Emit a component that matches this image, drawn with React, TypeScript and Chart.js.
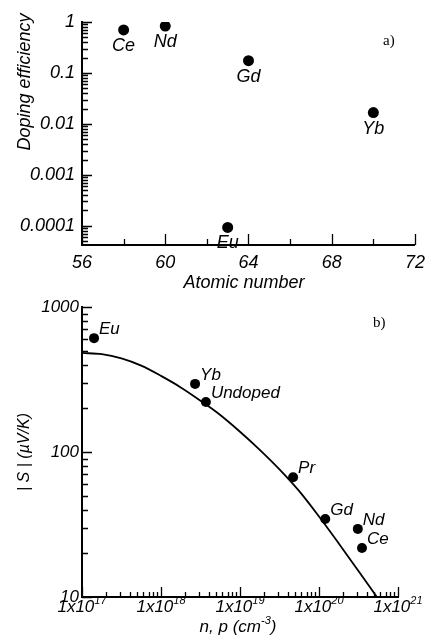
import React, { useEffect, useRef } from 'react';
import { Chart, registerables } from 'chart.js';

Chart.register(...registerables);

const SANS = "'Liberation Sans', Arial, sans-serif";
const SERIF = "'Liberation Serif', 'Times New Roman', serif";

// ---------- Panel a) ----------
const ELEMENTS_A = ['Ce', 'Nd', 'Eu', 'Gd', 'Yb'];
const ATOMIC_NUMBER = [58, 60, 63, 64, 70];
const DOPING_EFF = [0.7, 0.83, 0.000093, 0.174, 0.0167];
const A_X_TICKS = [56, 58, 60, 62, 64, 66, 68, 70, 72];
const A_X_LABELS = ['56', '', '60', '', '64', '', '68', '', '72'];
const A_Y_MAJOR = [0.0001, 0.001, 0.01, 0.1, 1];
const A_Y_LABELS = ['0.0001', '0.001', '0.01', '0.1', '1'];

// ---------- Panel b) ----------
const SAMPLES_B = ['Eu', 'Yb', 'Undoped', 'Pr', 'Gd', 'Nd', 'Ce'];
const CARRIER_N = [1.42e17, 2.7e18, 3.7e18, 4.7e19, 1.2e20, 3.1e20, 3.5e20];
const SEEBECK = [610, 295, 221, 67, 34.5, 29.5, 21.8];
const CURVE_N = [
  1e17, 1.78e17, 3.16e17, 5.62e17, 1e18, 1.78e18, 3.16e18, 5.62e18,
  1e19, 1.78e19, 3.16e19, 5.62e19, 1e20, 1.78e20, 3.16e20, 5.4e20,
];
const CURVE_S = [482, 473, 442, 394, 335, 279, 226, 180, 138, 103.5, 75.9, 53.7, 35.9, 23.4, 15.1, 10];
const B_X_MAJOR = [1e17, 1e18, 1e19, 1e20, 1e21];
const B_X_EXP = ['17', '18', '19', '20', '21'];
const B_Y_MAJOR = [10, 100, 1000];
const B_Y_LABELS = ['10', '100', '1000'];

function sameLog(a: number, b: number) {
  return Math.abs(Math.log10(a) - Math.log10(b)) < 1e-6;
}

function logTicks(majors: number[], min: number, max: number) {
  const out: { value: number; major: boolean }[] = [];
  const lo = Math.floor(Math.log10(min));
  const hi = Math.ceil(Math.log10(max));
  for (let e = lo; e <= hi; e++) {
    for (let m = 1; m <= 9; m++) {
      const v = m * Math.pow(10, e);
      if (v < min * 0.999 || v > max * 1.001) continue;
      out.push({ value: v, major: majors.some((t) => sameLog(t, v)) });
    }
  }
  return out;
}

function makeTicksPlugin(len: { xMaj: number; xMin: number; yMaj: number; yMin: number }) {
  return {
    id: 'insideTicks',
    afterDraw(chart: any) {
      const { ctx, chartArea } = chart;
      const xs = chart.scales.x;
      const ys = chart.scales.y;
      ctx.save();
      ctx.strokeStyle = '#000';
      ctx.lineWidth = 1.3;
      ctx.beginPath();
      for (const t of ys.ticks) {
        const py = Math.round(ys.getPixelForValue(t.value)) + 0.5;
        const l = t.major ? len.yMaj : len.yMin;
        ctx.moveTo(chartArea.left, py);
        ctx.lineTo(chartArea.left + l, py);
      }
      for (const t of xs.ticks) {
        const px = Math.round(xs.getPixelForValue(t.value)) + 0.5;
        const l = t.major ? len.xMaj : len.xMin;
        ctx.moveTo(px, chartArea.bottom);
        ctx.lineTo(px, chartArea.bottom - l);
      }
      ctx.stroke();
      ctx.restore();
    },
  };
}

function pointLabelPlugin(dsIndex: number, labels: string[], size: number, dx: number, dy: number, align: CanvasTextAlign) {
  return {
    id: 'pointLabels' + dsIndex,
    afterDatasetsDraw(chart: any) {
      const { ctx } = chart;
      const meta = chart.getDatasetMeta(dsIndex);
      ctx.save();
      ctx.fillStyle = '#000';
      ctx.font = `italic ${size}px ${SANS}`;
      ctx.textAlign = align;
      ctx.textBaseline = 'middle';
      meta.data.forEach((el: any, i: number) => {
        ctx.fillText(labels[i], el.x + dx, el.y + dy);
      });
      ctx.restore();
    },
  };
}

function drawSup(ctx: CanvasRenderingContext2D, parts: { t: string; sup?: boolean }[], cx: number, cy: number, size: number, supSize: number) {
  const widths = parts.map((p) => {
    ctx.font = `italic ${p.sup ? supSize : size}px ${SANS}`;
    return ctx.measureText(p.t).width;
  });
  const total = widths.reduce((a, b) => a + b, 0);
  let x = cx - total / 2;
  ctx.textAlign = 'left';
  ctx.textBaseline = 'middle';
  parts.forEach((p, i) => {
    ctx.font = `italic ${p.sup ? supSize : size}px ${SANS}`;
    ctx.fillText(p.t, x, p.sup ? cy - 6 : cy);
    x += widths[i];
  });
}

const textPluginA = {
  id: 'textsA',
  afterDraw(chart: any) {
    const { ctx } = chart;
    ctx.save();
    ctx.fillStyle = '#000';
    ctx.font = `italic 18px ${SANS}`;
    ctx.textAlign = 'center';
    ctx.textBaseline = 'middle';
    ctx.fillText('Atomic number', 244, 283);
    ctx.save();
    ctx.translate(25, 82);
    ctx.rotate(-Math.PI / 2);
    ctx.fillText('Doping efficiency', 0, 0);
    ctx.restore();
    ctx.font = `15px ${SERIF}`;
    ctx.textAlign = 'left';
    ctx.fillText('a)', 383, 41);
    ctx.restore();
  },
};

const textPluginB = {
  id: 'textsB',
  afterDraw(chart: any) {
    const { ctx } = chart;
    const xs = chart.scales.x;
    ctx.save();
    ctx.fillStyle = '#000';
    B_X_MAJOR.forEach((v, i) => {
      const px = xs.getPixelForValue(v);
      drawSup(ctx, [{ t: '1x10' }, { t: B_X_EXP[i], sup: true }], px, 315, 17, 11);
    });
    drawSup(ctx, [{ t: 'n, p (cm' }, { t: '-3', sup: true }, { t: ')' }], 238, 335, 17, 11);
    ctx.font = `italic 16px ${SANS}`;
    ctx.textAlign = 'center';
    ctx.textBaseline = 'middle';
    ctx.save();
    ctx.translate(25, 160);
    ctx.rotate(-Math.PI / 2);
    ctx.fillText('| S | (\u00B5V/K)', 0, 0);
    ctx.restore();
    ctx.font = `15px ${SERIF}`;
    ctx.textAlign = 'left';
    ctx.fillText('b)', 373, 31);
    ctx.restore();
  },
};

function axisBase() {
  return {
    grid: { display: false, drawTicks: false },
    border: { display: true, color: '#000', width: 2 },
  };
}

function configA(): any {
  const yMin = 4.2e-5;
  return {
    type: 'scatter',
    data: {
      datasets: [
        {
          data: ATOMIC_NUMBER.map((x, i) => ({ x, y: DOPING_EFF[i] })),
          pointRadius: 5.5,
          pointHoverRadius: 5.5,
          backgroundColor: '#000',
          borderColor: '#000',
          borderWidth: 0,
        },
      ],
    },
    options: {
      responsive: false,
      animation: false,
      events: [],
      layout: { padding: { left: 0, top: 22, right: 14, bottom: 0 }, autoPadding: false },
      plugins: { legend: { display: false }, tooltip: { enabled: false }, title: { display: false } },
      scales: {
        x: {
          type: 'linear',
          min: 56,
          max: 72,
          ...axisBase(),
          afterBuildTicks: (s: any) => {
            s.ticks = A_X_TICKS.map((v, i) => ({ value: v, major: A_X_LABELS[i] !== '' }));
          },
          afterFit: (s: any) => {
            s.height = 47;
          },
          ticks: {
            autoSkip: false,
            maxRotation: 0,
            padding: 7,
            color: '#000',
            font: { family: SANS, size: 18, style: 'italic' },
            callback: (v: number) => {
              const i = A_X_TICKS.indexOf(v);
              return i >= 0 ? A_X_LABELS[i] : '';
            },
          },
        },
        y: {
          type: 'logarithmic',
          min: yMin,
          max: 1,
          ...axisBase(),
          afterBuildTicks: (s: any) => {
            s.ticks = logTicks(A_Y_MAJOR, yMin, 1);
          },
          afterFit: (s: any) => {
            s.width = 82;
          },
          ticks: {
            autoSkip: false,
            padding: 7,
            color: '#000',
            font: { family: SANS, size: 18, style: 'italic' },
            callback: (v: number) => {
              const i = A_Y_MAJOR.findIndex((t) => sameLog(t, v));
              return i >= 0 ? A_Y_LABELS[i] : '';
            },
          },
        },
      },
    },
    plugins: [
      makeTicksPlugin({ xMaj: 11, xMin: 6, yMaj: 10, yMin: 6 }),
      pointLabelPlugin(0, ELEMENTS_A, 18, 0, 16, 'center'),
      textPluginA,
    ],
  };
}

function configB(): any {
  return {
    type: 'scatter',
    data: {
      datasets: [
        {
          data: CURVE_N.map((x, i) => ({ x, y: CURVE_S[i] })),
          showLine: true,
          pointRadius: 0,
          borderColor: '#000',
          borderWidth: 1.8,
          tension: 0.4,
          cubicInterpolationMode: 'monotone',
          fill: false,
        },
        {
          data: CARRIER_N.map((x, i) => ({ x, y: SEEBECK[i] })),
          pointRadius: 5,
          pointHoverRadius: 5,
          backgroundColor: '#000',
          borderColor: '#000',
          borderWidth: 0,
        },
      ],
    },
    options: {
      responsive: false,
      animation: false,
      events: [],
      layout: { padding: { left: 0, top: 15, right: 34, bottom: 0 }, autoPadding: false },
      plugins: { legend: { display: false }, tooltip: { enabled: false }, title: { display: false } },
      scales: {
        x: {
          type: 'logarithmic',
          min: 1e17,
          max: 1e21,
          ...axisBase(),
          afterBuildTicks: (s: any) => {
            s.ticks = logTicks(B_X_MAJOR, 1e17, 1e21);
          },
          afterFit: (s: any) => {
            s.height = 45;
          },
          ticks: { display: false, autoSkip: false },
        },
        y: {
          type: 'logarithmic',
          min: 10,
          max: 1000,
          ...axisBase(),
          afterBuildTicks: (s: any) => {
            s.ticks = logTicks(B_Y_MAJOR, 10, 1000);
          },
          afterFit: (s: any) => {
            s.width = 82;
          },
          ticks: {
            autoSkip: false,
            padding: 3,
            color: '#000',
            font: { family: SANS, size: 17, style: 'italic' },
            callback: (v: number) => {
              const i = B_Y_MAJOR.findIndex((t) => sameLog(t, v));
              return i >= 0 ? B_Y_LABELS[i] : '';
            },
          },
        },
      },
    },
    plugins: [
      makeTicksPlugin({ xMaj: 10, xMin: 5, yMaj: 10, yMin: 6 }),
      pointLabelPlugin(1, SAMPLES_B, 17, 5, -9, 'left'),
      textPluginB,
    ],
  };
}

export default function App() {
  const topRef = useRef<HTMLCanvasElement>(null);
  const botRef = useRef<HTMLCanvasElement>(null);
  useEffect(() => {
    const c1 = new Chart(topRef.current as HTMLCanvasElement, configA());
    const c2 = new Chart(botRef.current as HTMLCanvasElement, configB());
    return () => {
      c1.destroy();
      c2.destroy();
    };
  }, []);
  return (
    <div style={{ position: 'absolute', left: 0, top: 0, width: 432, height: 642, background: '#fff' }}>
      <canvas ref={topRef} width={432} height={292} style={{ display: 'block', width: 432, height: 292 }} />
      <canvas ref={botRef} width={432} height={350} style={{ display: 'block', width: 432, height: 350 }} />
    </div>
  );
}
